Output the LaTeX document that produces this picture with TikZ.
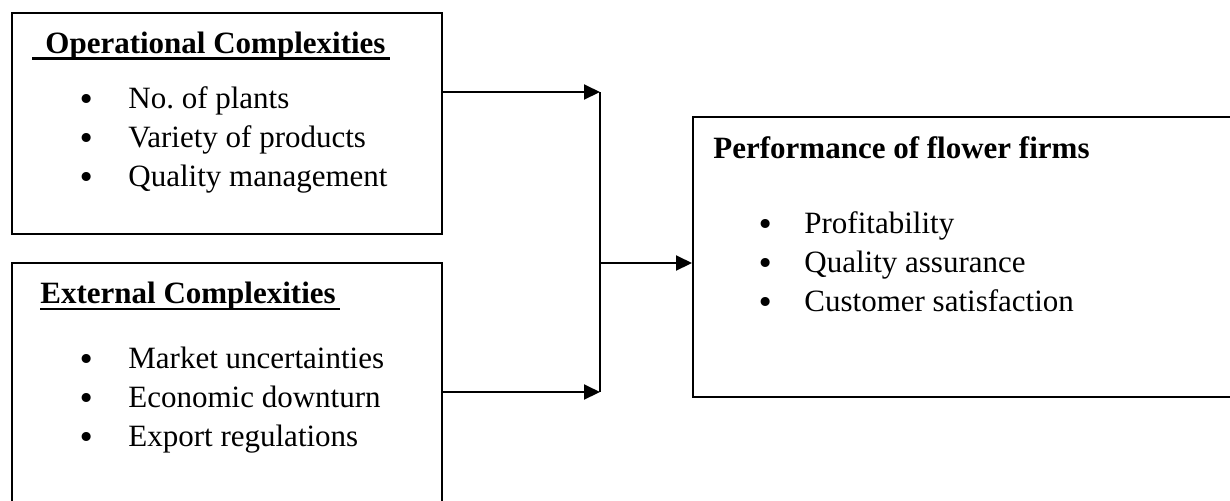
\documentclass[tikz,border=0pt]{standalone}
\usepackage{fontspec}
\setmainfont{Liberation Serif}
\newfontfamily\bulfont{DejaVu Sans}
\usetikzlibrary{arrows.meta}
\begin{document}
\begin{tikzpicture}[x=0.5pt,y=-0.5pt,
  box/.style={draw=black, line width=1pt, rectangle, inner sep=0pt},
  txt/.style={anchor=base west, inner sep=0pt, font=\fontsize{15.5pt}{19.5pt}\selectfont\frenchspacing},
  hdr/.style={txt, font=\fontsize{15.5pt}{19.5pt}\selectfont\bfseries},
  bul/.style={anchor=base, inner sep=0pt, font=\bulfont\fontsize{15.5pt}{15.5pt}\selectfont, yshift=-1pt},
  uline/.style={line width=1.2pt},
  conn/.style={line width=1pt},
  arr/.style={conn, -{Triangle[length=8pt,width=7.5pt]}}]
\useasboundingbox (0,0) rectangle (1230,500);
\clip (0,0) rectangle (1230,500);
% boxes
\node[box, minimum width=215pt, minimum height=110.5pt] (b1) at (227,123.5) {};
\node[box, minimum width=215pt, minimum height=128.5pt] (b2) at (227,391.5) {};
\node[box, minimum width=273.5pt, minimum height=140pt] (b3) at (966.5,257) {};
% box 1 text
\node[hdr] (h1) at (45,53) {Operational Complexities};
\draw[uline] (32,58.5) -- ([xshift=2pt]h1.base east |- 0,58.5);
\node[bul] (p1) at (87,108) {•};
\node[txt] (t1) at (128,108) {No. of plants};
\node[bul] (p2) at (87,147) {•};
\node[txt] (t2) at (128,147) {Variety of products};
\node[bul] (p3) at (87,186) {•};
\node[txt] (t3) at (128,186) {Quality management};
% box 2 text
\node[hdr] (h2) at (40,303) {External Complexities};
\draw[uline] (h2.base west |- 0,309) -- ([xshift=2pt]h2.base east |- 0,309);
\node[bul] (q1) at (87,368) {•};
\node[txt] (u1) at (128,368) {Market uncertainties};
\node[bul] (q2) at (87,407) {•};
\node[txt] (u2) at (128,407) {Economic downturn};
\node[bul] (q3) at (87,446) {•};
\node[txt] (u3) at (128,446) {Export regulations};
% box 3 text
\node[hdr] (h3) at (713,158) {Performance of flower firms};
\node[bul] (r1) at (766,233) {•};
\node[txt] (v1) at (804,233) {Profitability};
\node[bul] (r2) at (766,272) {•};
\node[txt] (v2) at (804,272) {Quality assurance};
\node[bul] (r3) at (766,311) {•};
\node[txt] (v3) at (804,311) {Customer satisfaction};
% connectors
\coordinate (j1) at (600,92);
\coordinate (j2) at (600,392);
\coordinate (jm) at (600,263);
\draw[arr] (b1.east |- j1) -- (j1);
\draw[arr] (b2.east |- j2) -- (j2);
\draw[conn] (j1) -- (j2);
\draw[arr] (jm) -- (b3.west |- jm);
\end{tikzpicture}
\end{document}
